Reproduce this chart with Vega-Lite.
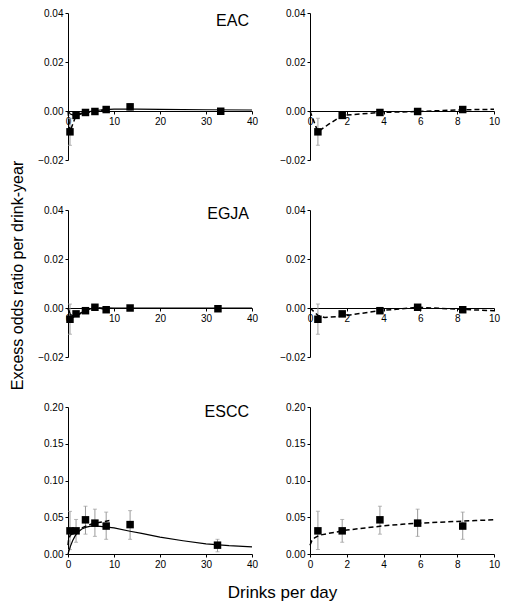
{
"$schema":"https://vega.github.io/schema/vega-lite/v6.json",
"padding":{"left":8,"top":8,"right":5,"bottom":5},
"bounds":"flush",
"columns":2,
"spacing":{"row":50,"column":58},
"datasets":{
"pts":[
{"p":"EAC","x":0.43,"y":-0.0085,"lo":-0.014,"hi":-0.003},
{"p":"EAC","x":1.75,"y":-0.0018,"lo":-0.0027,"hi":-0.0009},
{"p":"EAC","x":3.8,"y":-0.0006,"lo":-0.0014,"hi":0.0002},
{"p":"EAC","x":5.85,"y":-0.0002,"lo":-0.001,"hi":0.0006},
{"p":"EAC","x":8.3,"y":0.0006,"lo":-0.0004,"hi":0.0016},
{"p":"EAC","x":13.5,"y":0.0017,"lo":0.0004,"hi":0.003},
{"p":"EAC","x":33.2,"y":-0.0001,"lo":-0.0005,"hi":0.0003},
{"p":"EGJA","x":0.43,"y":-0.0046,"lo":-0.0107,"hi":0.0016},
{"p":"EGJA","x":1.75,"y":-0.0024,"lo":-0.0034,"hi":-0.0014},
{"p":"EGJA","x":3.8,"y":-0.0011,"lo":-0.0019,"hi":-0.0003},
{"p":"EGJA","x":5.85,"y":0.0003,"lo":-0.0005,"hi":0.0011},
{"p":"EGJA","x":8.3,"y":-0.0007,"lo":-0.0015,"hi":0.0001},
{"p":"EGJA","x":13.5,"y":0.0,"lo":-0.0005,"hi":0.0005},
{"p":"EGJA","x":32.6,"y":-0.0003,"lo":-0.0007,"hi":0.0001},
{"p":"ESCC","x":0.43,"y":0.0315,"lo":0.006,"hi":0.058},
{"p":"ESCC","x":1.75,"y":0.0315,"lo":0.016,"hi":0.047},
{"p":"ESCC","x":3.8,"y":0.0465,"lo":0.027,"hi":0.065},
{"p":"ESCC","x":5.85,"y":0.042,"lo":0.024,"hi":0.061},
{"p":"ESCC","x":8.3,"y":0.038,"lo":0.02,"hi":0.057},
{"p":"ESCC","x":13.5,"y":0.04,"lo":0.02,"hi":0.059},
{"p":"ESCC","x":32.5,"y":0.012,"lo":0.003,"hi":0.02}
],
"curves":[
{"p":"EAC","k":"solid","x":0,"y":0},{"p":"EAC","k":"solid","x":0.5,"y":-0.0012},{"p":"EAC","k":"solid","x":1,"y":-0.0016},{"p":"EAC","k":"solid","x":2,"y":-0.0013},{"p":"EAC","k":"solid","x":3,"y":-0.0008},{"p":"EAC","k":"solid","x":4,"y":-0.0004},{"p":"EAC","k":"solid","x":6,"y":0.0002},{"p":"EAC","k":"solid","x":8,"y":0.0006},{"p":"EAC","k":"solid","x":10,"y":0.0008},{"p":"EAC","k":"solid","x":15,"y":0.0008},{"p":"EAC","k":"solid","x":20,"y":0.0007},{"p":"EAC","k":"solid","x":30,"y":0.0005},{"p":"EAC","k":"solid","x":40,"y":0.0004},
{"p":"EAC","k":"dashed","x":0,"y":0},{"p":"EAC","k":"dashed","x":0.43,"y":-0.0085},{"p":"EAC","k":"dashed","x":1.0,"y":-0.0055},{"p":"EAC","k":"dashed","x":1.75,"y":-0.0018},{"p":"EAC","k":"dashed","x":3.8,"y":-0.0006},{"p":"EAC","k":"dashed","x":5.85,"y":-0.0002},{"p":"EAC","k":"dashed","x":8.3,"y":0.0005},{"p":"EAC","k":"dashed","x":10,"y":0.0007},
{"p":"EGJA","k":"solid","x":0,"y":0},{"p":"EGJA","k":"solid","x":0.5,"y":-0.0025},{"p":"EGJA","k":"solid","x":1,"y":-0.0032},{"p":"EGJA","k":"solid","x":2,"y":-0.0028},{"p":"EGJA","k":"solid","x":3,"y":-0.0018},{"p":"EGJA","k":"solid","x":4,"y":-0.001},{"p":"EGJA","k":"solid","x":5,"y":-0.0003},{"p":"EGJA","k":"solid","x":6,"y":0},{"p":"EGJA","k":"solid","x":8,"y":0.0001},{"p":"EGJA","k":"solid","x":10,"y":0},{"p":"EGJA","k":"solid","x":20,"y":0},{"p":"EGJA","k":"solid","x":40,"y":0},
{"p":"EGJA","k":"dashed","x":0,"y":0},{"p":"EGJA","k":"dashed","x":0.43,"y":-0.003},{"p":"EGJA","k":"dashed","x":0.8,"y":-0.0039},{"p":"EGJA","k":"dashed","x":1.75,"y":-0.0033},{"p":"EGJA","k":"dashed","x":3.8,"y":-0.0011},{"p":"EGJA","k":"dashed","x":5.85,"y":0.0003},{"p":"EGJA","k":"dashed","x":8.3,"y":-0.0006},{"p":"EGJA","k":"dashed","x":10,"y":-0.0011},
{"p":"ESCC","k":"solid","x":0,"y":0},{"p":"ESCC","k":"solid","x":0.5,"y":0.01},{"p":"ESCC","k":"solid","x":1,"y":0.018},{"p":"ESCC","k":"solid","x":1.5,"y":0.024},{"p":"ESCC","k":"solid","x":2,"y":0.029},{"p":"ESCC","k":"solid","x":3,"y":0.034},{"p":"ESCC","k":"solid","x":4,"y":0.0365},{"p":"ESCC","k":"solid","x":5,"y":0.0378},{"p":"ESCC","k":"solid","x":6,"y":0.038},{"p":"ESCC","k":"solid","x":7,"y":0.0377},{"p":"ESCC","k":"solid","x":8,"y":0.037},{"p":"ESCC","k":"solid","x":10,"y":0.0355},{"p":"ESCC","k":"solid","x":13.5,"y":0.031},{"p":"ESCC","k":"solid","x":16,"y":0.028},{"p":"ESCC","k":"solid","x":20,"y":0.023},{"p":"ESCC","k":"solid","x":25,"y":0.018},{"p":"ESCC","k":"solid","x":30,"y":0.0137},{"p":"ESCC","k":"solid","x":35,"y":0.0113},{"p":"ESCC","k":"solid","x":40,"y":0.0096},
{"p":"ESCC","k":"dashed","x":0,"y":0.012},{"p":"ESCC","k":"dashed","x":0.1,"y":0.018},{"p":"ESCC","k":"dashed","x":0.25,"y":0.022},{"p":"ESCC","k":"dashed","x":0.5,"y":0.0255},{"p":"ESCC","k":"dashed","x":1,"y":0.028},{"p":"ESCC","k":"dashed","x":2,"y":0.0325},{"p":"ESCC","k":"dashed","x":3,"y":0.0355},{"p":"ESCC","k":"dashed","x":4,"y":0.0383},{"p":"ESCC","k":"dashed","x":5,"y":0.0405},{"p":"ESCC","k":"dashed","x":6,"y":0.042},{"p":"ESCC","k":"dashed","x":7,"y":0.0432},{"p":"ESCC","k":"dashed","x":8,"y":0.0443},{"p":"ESCC","k":"dashed","x":9,"y":0.0455},{"p":"ESCC","k":"dashed","x":10,"y":0.0465}
],
"labels":[
{"p":"EAC","t":"EAC","x":40,"y":0.04},
{"p":"EGJA","t":"EGJA","x":40,"y":0.04},
{"p":"ESCC","t":"ESCC","x":40,"y":0.2}
]
},
"concat":[
{
"width":184,"height":147,
"encoding":{
"x":{"field":"x","type":"quantitative","scale":{"domain":[0,40],"nice":false},"axis":{"values":[0,10,20,30,40],"offset":-49,"title":null}},
"y":{"field":"y","type":"quantitative","scale":{"domain":[-0.02,0.04],"nice":false},"axis":{"values":[-0.02,0,0.02,0.04],"format":".2f","title":null}}
},
"layer":[
{"data":{"name":"pts"},"transform":[{"filter":"datum.p=='EAC'"}],"mark":{"type":"rule","color":"#9a9a9a","strokeWidth":1},"encoding":{"y":{"field":"lo","type":"quantitative","scale":{"domain":[-0.02,0.04],"nice":false},"axis":{"values":[-0.02,0,0.02,0.04],"format":".2f","title":null}},"y2":{"field":"hi"}}},
{"data":{"name":"pts"},"transform":[{"filter":"datum.p=='EAC'"}],"mark":{"type":"tick","orient":"horizontal","color":"#9a9a9a","size":4,"thickness":1},"encoding":{"y":{"field":"lo","type":"quantitative","scale":{"domain":[-0.02,0.04],"nice":false},"axis":{"values":[-0.02,0,0.02,0.04],"format":".2f","title":null}}}},
{"data":{"name":"pts"},"transform":[{"filter":"datum.p=='EAC'"}],"mark":{"type":"tick","orient":"horizontal","color":"#9a9a9a","size":4,"thickness":1},"encoding":{"y":{"field":"hi","type":"quantitative","scale":{"domain":[-0.02,0.04],"nice":false},"axis":{"values":[-0.02,0,0.02,0.04],"format":".2f","title":null}}}},
{"data":{"name":"curves"},"transform":[{"filter":"datum.p=='EAC' && datum.k=='solid'"}],"mark":{"type":"line","color":"#000","strokeWidth":1.2}},
{"data":{"name":"curves"},"transform":[{"filter":"datum.p=='EAC' && datum.k=='dashed' && datum.x<=9"}],"mark":{"type":"line","color":"#000","strokeWidth":1.5,"strokeDash":[5,3]}},
{"data":{"name":"pts"},"transform":[{"filter":"datum.p=='EAC'"}],"mark":{"type":"square","color":"#000","opacity":1,"size":56}},
{"data":{"name":"labels"},"transform":[{"filter":"datum.p=='EAC'"}],"mark":{"type":"text","align":"right","baseline":"top","fontSize":16,"dx":-3,"dy":0,"color":"#000"},"encoding":{"text":{"field":"t"}}}
]
},
{
"width":184,"height":147,
"encoding":{
"x":{"field":"x","type":"quantitative","scale":{"domain":[0,10],"nice":false},"axis":{"values":[0,2,4,6,8,10],"offset":-49,"title":null}},
"y":{"field":"y","type":"quantitative","scale":{"domain":[-0.02,0.04],"nice":false},"axis":{"values":[-0.02,0,0.02,0.04],"format":".2f","title":null}}
},
"layer":[
{"data":{"name":"pts"},"transform":[{"filter":"datum.p=='EAC' && datum.x<=10"}],"mark":{"type":"rule","color":"#9a9a9a","strokeWidth":1},"encoding":{"y":{"field":"lo","type":"quantitative","scale":{"domain":[-0.02,0.04],"nice":false},"axis":{"values":[-0.02,0,0.02,0.04],"format":".2f","title":null}},"y2":{"field":"hi"}}},
{"data":{"name":"pts"},"transform":[{"filter":"datum.p=='EAC' && datum.x<=10"}],"mark":{"type":"tick","orient":"horizontal","color":"#9a9a9a","size":4,"thickness":1},"encoding":{"y":{"field":"lo","type":"quantitative","scale":{"domain":[-0.02,0.04],"nice":false},"axis":{"values":[-0.02,0,0.02,0.04],"format":".2f","title":null}}}},
{"data":{"name":"pts"},"transform":[{"filter":"datum.p=='EAC' && datum.x<=10"}],"mark":{"type":"tick","orient":"horizontal","color":"#9a9a9a","size":4,"thickness":1},"encoding":{"y":{"field":"hi","type":"quantitative","scale":{"domain":[-0.02,0.04],"nice":false},"axis":{"values":[-0.02,0,0.02,0.04],"format":".2f","title":null}}}},
{"data":{"name":"curves"},"transform":[{"filter":"datum.p=='EAC' && datum.k=='dashed'"}],"mark":{"type":"line","color":"#000","strokeWidth":1.5,"strokeDash":[5,3]}},
{"data":{"name":"pts"},"transform":[{"filter":"datum.p=='EAC' && datum.x<=10"}],"mark":{"type":"square","color":"#000","opacity":1,"size":56}}
]
},
{
"width":184,"height":147,
"encoding":{
"x":{"field":"x","type":"quantitative","scale":{"domain":[0,40],"nice":false},"axis":{"values":[0,10,20,30,40],"offset":-49,"title":null}},
"y":{"field":"y","type":"quantitative","scale":{"domain":[-0.02,0.04],"nice":false},"axis":{"values":[-0.02,0,0.02,0.04],"format":".2f","title":"Excess odds ratio per drink-year","titleX":-51,"titleY":65,"titleAlign":"center","titleBaseline":"middle","titleFontSize":16}}
},
"layer":[
{"data":{"name":"pts"},"transform":[{"filter":"datum.p=='EGJA'"}],"mark":{"type":"rule","color":"#9a9a9a","strokeWidth":1},"encoding":{"y":{"field":"lo","type":"quantitative","scale":{"domain":[-0.02,0.04],"nice":false},"axis":{"values":[-0.02,0,0.02,0.04],"format":".2f","title":"Excess odds ratio per drink-year","titleX":-51,"titleY":65,"titleAlign":"center","titleBaseline":"middle","titleFontSize":16}},"y2":{"field":"hi"}}},
{"data":{"name":"pts"},"transform":[{"filter":"datum.p=='EGJA'"}],"mark":{"type":"tick","orient":"horizontal","color":"#9a9a9a","size":4,"thickness":1},"encoding":{"y":{"field":"lo","type":"quantitative","scale":{"domain":[-0.02,0.04],"nice":false},"axis":{"values":[-0.02,0,0.02,0.04],"format":".2f","title":"Excess odds ratio per drink-year","titleX":-51,"titleY":65,"titleAlign":"center","titleBaseline":"middle","titleFontSize":16}}}},
{"data":{"name":"pts"},"transform":[{"filter":"datum.p=='EGJA'"}],"mark":{"type":"tick","orient":"horizontal","color":"#9a9a9a","size":4,"thickness":1},"encoding":{"y":{"field":"hi","type":"quantitative","scale":{"domain":[-0.02,0.04],"nice":false},"axis":{"values":[-0.02,0,0.02,0.04],"format":".2f","title":"Excess odds ratio per drink-year","titleX":-51,"titleY":65,"titleAlign":"center","titleBaseline":"middle","titleFontSize":16}}}},
{"data":{"name":"curves"},"transform":[{"filter":"datum.p=='EGJA' && datum.k=='solid'"}],"mark":{"type":"line","color":"#000","strokeWidth":1.2}},
{"data":{"name":"curves"},"transform":[{"filter":"datum.p=='EGJA' && datum.k=='dashed' && datum.x<=9"}],"mark":{"type":"line","color":"#000","strokeWidth":1.5,"strokeDash":[5,3]}},
{"data":{"name":"pts"},"transform":[{"filter":"datum.p=='EGJA'"}],"mark":{"type":"square","color":"#000","opacity":1,"size":56}},
{"data":{"name":"labels"},"transform":[{"filter":"datum.p=='EGJA'"}],"mark":{"type":"text","align":"right","baseline":"top","fontSize":16,"dx":-3,"dy":-4,"color":"#000"},"encoding":{"text":{"field":"t"}}}
]
},
{
"width":184,"height":147,
"encoding":{
"x":{"field":"x","type":"quantitative","scale":{"domain":[0,10],"nice":false},"axis":{"values":[0,2,4,6,8,10],"offset":-49,"title":null}},
"y":{"field":"y","type":"quantitative","scale":{"domain":[-0.02,0.04],"nice":false},"axis":{"values":[-0.02,0,0.02,0.04],"format":".2f","title":null}}
},
"layer":[
{"data":{"name":"pts"},"transform":[{"filter":"datum.p=='EGJA' && datum.x<=10"}],"mark":{"type":"rule","color":"#9a9a9a","strokeWidth":1},"encoding":{"y":{"field":"lo","type":"quantitative","scale":{"domain":[-0.02,0.04],"nice":false},"axis":{"values":[-0.02,0,0.02,0.04],"format":".2f","title":null}},"y2":{"field":"hi"}}},
{"data":{"name":"pts"},"transform":[{"filter":"datum.p=='EGJA' && datum.x<=10"}],"mark":{"type":"tick","orient":"horizontal","color":"#9a9a9a","size":4,"thickness":1},"encoding":{"y":{"field":"lo","type":"quantitative","scale":{"domain":[-0.02,0.04],"nice":false},"axis":{"values":[-0.02,0,0.02,0.04],"format":".2f","title":null}}}},
{"data":{"name":"pts"},"transform":[{"filter":"datum.p=='EGJA' && datum.x<=10"}],"mark":{"type":"tick","orient":"horizontal","color":"#9a9a9a","size":4,"thickness":1},"encoding":{"y":{"field":"hi","type":"quantitative","scale":{"domain":[-0.02,0.04],"nice":false},"axis":{"values":[-0.02,0,0.02,0.04],"format":".2f","title":null}}}},
{"data":{"name":"curves"},"transform":[{"filter":"datum.p=='EGJA' && datum.k=='dashed'"}],"mark":{"type":"line","color":"#000","strokeWidth":1.5,"strokeDash":[5,3]}},
{"data":{"name":"pts"},"transform":[{"filter":"datum.p=='EGJA' && datum.x<=10"}],"mark":{"type":"square","color":"#000","opacity":1,"size":56}}
]
},
{
"width":184,"height":147,
"encoding":{
"x":{"field":"x","type":"quantitative","scale":{"domain":[0,40],"nice":false},"axis":{"values":[0,10,20,30,40],"title":"Drinks per day","titleX":214,"titleY":30,"titleAlign":"center","titleBaseline":"top","titleFontSize":17}},
"y":{"field":"y","type":"quantitative","scale":{"domain":[0,0.2],"nice":false},"axis":{"values":[0,0.05,0.1,0.15,0.2],"format":".2f","title":null}}
},
"layer":[
{"data":{"name":"pts"},"transform":[{"filter":"datum.p=='ESCC'"}],"mark":{"type":"rule","color":"#9a9a9a","strokeWidth":1},"encoding":{"y":{"field":"lo","type":"quantitative","scale":{"domain":[0,0.2],"nice":false},"axis":{"values":[0,0.05,0.1,0.15,0.2],"format":".2f","title":null}},"y2":{"field":"hi"}}},
{"data":{"name":"pts"},"transform":[{"filter":"datum.p=='ESCC'"}],"mark":{"type":"tick","orient":"horizontal","color":"#9a9a9a","size":4,"thickness":1},"encoding":{"y":{"field":"lo","type":"quantitative","scale":{"domain":[0,0.2],"nice":false},"axis":{"values":[0,0.05,0.1,0.15,0.2],"format":".2f","title":null}}}},
{"data":{"name":"pts"},"transform":[{"filter":"datum.p=='ESCC'"}],"mark":{"type":"tick","orient":"horizontal","color":"#9a9a9a","size":4,"thickness":1},"encoding":{"y":{"field":"hi","type":"quantitative","scale":{"domain":[0,0.2],"nice":false},"axis":{"values":[0,0.05,0.1,0.15,0.2],"format":".2f","title":null}}}},
{"data":{"name":"curves"},"transform":[{"filter":"datum.p=='ESCC' && datum.k=='solid'"}],"mark":{"type":"line","color":"#000","strokeWidth":1.2}},
{"data":{"name":"curves"},"transform":[{"filter":"datum.p=='ESCC' && datum.k=='dashed' && datum.x<=9"}],"mark":{"type":"line","color":"#000","strokeWidth":1.5,"strokeDash":[5,3]}},
{"data":{"name":"pts"},"transform":[{"filter":"datum.p=='ESCC'"}],"mark":{"type":"square","color":"#000","opacity":1,"size":56}},
{"data":{"name":"labels"},"transform":[{"filter":"datum.p=='ESCC'"}],"mark":{"type":"text","align":"right","baseline":"top","fontSize":16,"dx":-3,"dy":-3,"color":"#000"},"encoding":{"text":{"field":"t"}}}
]
},
{
"width":184,"height":147,
"encoding":{
"x":{"field":"x","type":"quantitative","scale":{"domain":[0,10],"nice":false},"axis":{"values":[0,2,4,6,8,10],"title":null}},
"y":{"field":"y","type":"quantitative","scale":{"domain":[0,0.2],"nice":false},"axis":{"values":[0,0.05,0.1,0.15,0.2],"format":".2f","title":null}}
},
"layer":[
{"data":{"name":"pts"},"transform":[{"filter":"datum.p=='ESCC' && datum.x<=10"}],"mark":{"type":"rule","color":"#9a9a9a","strokeWidth":1},"encoding":{"y":{"field":"lo","type":"quantitative","scale":{"domain":[0,0.2],"nice":false},"axis":{"values":[0,0.05,0.1,0.15,0.2],"format":".2f","title":null}},"y2":{"field":"hi"}}},
{"data":{"name":"pts"},"transform":[{"filter":"datum.p=='ESCC' && datum.x<=10"}],"mark":{"type":"tick","orient":"horizontal","color":"#9a9a9a","size":4,"thickness":1},"encoding":{"y":{"field":"lo","type":"quantitative","scale":{"domain":[0,0.2],"nice":false},"axis":{"values":[0,0.05,0.1,0.15,0.2],"format":".2f","title":null}}}},
{"data":{"name":"pts"},"transform":[{"filter":"datum.p=='ESCC' && datum.x<=10"}],"mark":{"type":"tick","orient":"horizontal","color":"#9a9a9a","size":4,"thickness":1},"encoding":{"y":{"field":"hi","type":"quantitative","scale":{"domain":[0,0.2],"nice":false},"axis":{"values":[0,0.05,0.1,0.15,0.2],"format":".2f","title":null}}}},
{"data":{"name":"curves"},"transform":[{"filter":"datum.p=='ESCC' && datum.k=='dashed'"}],"mark":{"type":"line","color":"#000","strokeWidth":1.5,"strokeDash":[5,3]}},
{"data":{"name":"pts"},"transform":[{"filter":"datum.p=='ESCC' && datum.x<=10"}],"mark":{"type":"square","color":"#000","opacity":1,"size":56}}
]
}
],
"config":{
"font":"Liberation Sans",
"view":{"stroke":null},
"axis":{"grid":false,"domainColor":"#000","tickColor":"#000","labelColor":"#000","titleColor":"#000","labelFontSize":10,"tickSize":3,"labelPadding":2,"titleFontWeight":"normal","labelFlush":false,"labelOverlap":false,"domainWidth":1,"tickWidth":1}
}
}
